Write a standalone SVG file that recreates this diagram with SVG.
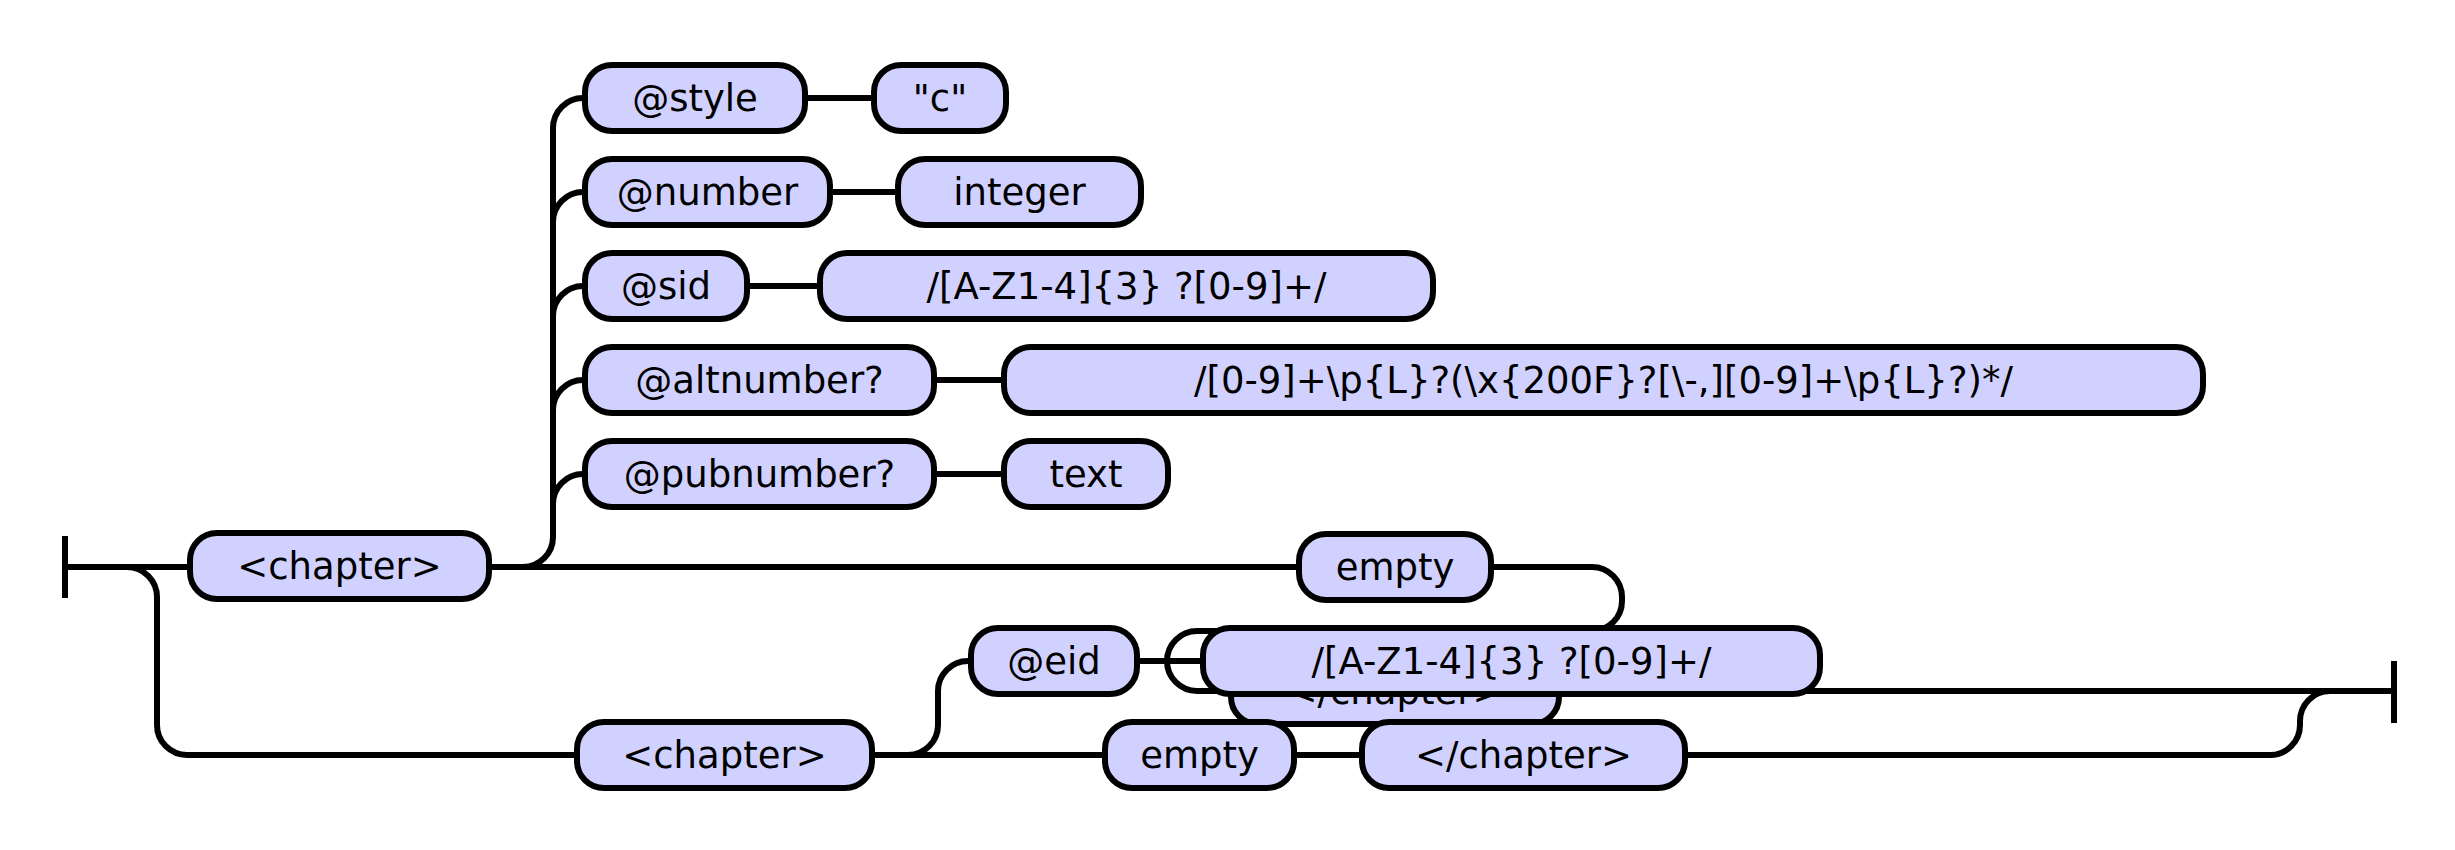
<svg xmlns="http://www.w3.org/2000/svg" width="2455" height="850" viewBox="0 0 2455 850">
<style>
.c{fill:none;stroke:#000;stroke-width:6}
.b{fill:#d1d1ff;stroke:#000;stroke-width:6}
.t{font-family:"DejaVu Sans",sans-serif;font-size:37px;fill:#000;text-anchor:middle}
</style>
<rect width="2455" height="850" fill="#fff"/>
<g id="connectors">
<path class="c" d="M65 536V598M2394 661V723"/>
<path class="c" d="M65 567H187"/>
<path class="c" d="M127 567A30 30 0 0 1 157 597V725A30 30 0 0 0 187 755H574"/>
<path class="c" d="M492 567H1296"/>
<path class="c" d="M523 567A30 30 0 0 0 553 537V128A30 30 0 0 1 583 98"/>
<path class="c" d="M553 222A30 30 0 0 1 583 192M553 316A30 30 0 0 1 583 286M553 410A30 30 0 0 1 583 380M553 504A30 30 0 0 1 583 474"/>
<path class="c" d="M808 98H871M833 192H895M750 286H817M937 380H1001M937 474H1001"/>
<path class="c" d="M1494 567H1592A30 30 0 0 1 1622 597V601A30 30 0 0 1 1592 631H1197A30 30 0 0 0 1197 691H2394"/>
<path class="c" d="M875 755H1102M908 755A30 30 0 0 0 938 725V691A30 30 0 0 1 968 661M1140 661H1200"/>
<path class="c" d="M1297 755H1359M1688 755H2270A30 30 0 0 0 2300 725V721A30 30 0 0 1 2330 691"/>
</g>
<g id="n-chapter1"><rect class="b" x="190" y="533" width="299" height="66" rx="27"/><text class="t" x="339.5" y="579">&lt;chapter&gt;</text></g>
<g id="n-style"><rect class="b" x="585" y="65" width="220" height="66" rx="27"/><text class="t" x="695" y="111">@style</text></g>
<g id="n-c"><rect class="b" x="874" y="65" width="132" height="66" rx="27"/><text class="t" x="940" y="111">"c"</text></g>
<g id="n-number"><rect class="b" x="585" y="159" width="245" height="66" rx="27"/><text class="t" x="707.5" y="205">@number</text></g>
<g id="n-integer"><rect class="b" x="898" y="159" width="243" height="66" rx="27"/><text class="t" x="1019.5" y="205">integer</text></g>
<g id="n-sid"><rect class="b" x="585" y="253" width="162" height="66" rx="27"/><text class="t" x="666" y="299">@sid</text></g>
<g id="n-sidval"><rect class="b" x="820" y="253" width="613" height="66" rx="27"/><text class="t" x="1126.5" y="299">/[A-Z1-4]{3} ?[0-9]+/</text></g>
<g id="n-altnumber"><rect class="b" x="585" y="347" width="349" height="66" rx="27"/><text class="t" x="759.5" y="393">@altnumber?</text></g>
<g id="n-altval"><rect class="b" x="1004" y="347" width="1199" height="66" rx="27"/><text class="t" x="1603.5" y="393">/[0-9]+\p{L}?(\x{200F}?[\-,][0-9]+\p{L}?)*/</text></g>
<g id="n-pubnumber"><rect class="b" x="585" y="441" width="349" height="66" rx="27"/><text class="t" x="759.5" y="487">@pubnumber?</text></g>
<g id="n-text"><rect class="b" x="1004" y="441" width="164" height="66" rx="27"/><text class="t" x="1086" y="487">text</text></g>
<g id="n-empty1"><rect class="b" x="1299" y="534" width="192" height="66" rx="27"/><text class="t" x="1395" y="580">empty</text></g>
<g id="n-endchapter1"><rect class="b" x="1231" y="658" width="328" height="66" rx="27"/><text class="t" x="1395" y="704">&lt;/chapter&gt;</text></g>
<g id="n-eid"><rect class="b" x="971" y="628" width="166" height="66" rx="27"/><text class="t" x="1054" y="674">@eid</text></g>
<g id="n-eidval"><rect class="b" x="1203" y="628" width="617" height="66" rx="27"/><text class="t" x="1511.5" y="674">/[A-Z1-4]{3} ?[0-9]+/</text></g>
<g id="n-chapter2"><rect class="b" x="577" y="722" width="295" height="66" rx="27"/><text class="t" x="724.5" y="768">&lt;chapter&gt;</text></g>
<g id="n-empty2"><rect class="b" x="1105" y="722" width="189" height="66" rx="27"/><text class="t" x="1199.5" y="768">empty</text></g>
<g id="n-endchapter2"><rect class="b" x="1362" y="722" width="323" height="66" rx="27"/><text class="t" x="1523.5" y="768">&lt;/chapter&gt;</text></g>
</svg>
